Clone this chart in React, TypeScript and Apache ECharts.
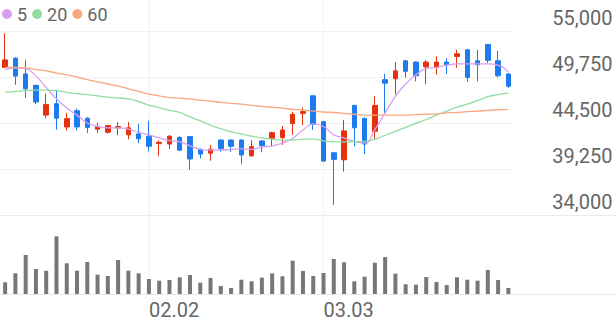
import React, { useEffect, useRef } from "react";
import * as echarts from "echarts";

const dates = [
  "01.13", "01.14", "01.15", "01.16", "01.19", "01.20", "01.21", "01.22", "01.23", "01.26",
  "01.27", "01.28", "01.29", "01.30", "02.02", "02.03", "02.04", "02.05", "02.06", "02.09",
  "02.10", "02.11", "02.12", "02.13", "02.19", "02.20", "02.23", "02.24", "02.25", "02.26",
  "02.27", "03.03", "03.04", "03.05", "03.06", "03.09", "03.10", "03.11", "03.12", "03.13",
  "03.16", "03.17", "03.18", "03.19", "03.20", "03.23", "03.24", "03.25", "03.26", "03.27",
];
const tickLabels = ["02.02", "03.03"];

const opens = [
  50850, 51900, 50100, 48800, 45400, 46700, 44050, 45900, 45050, 43800,
  43450, 43950, 43150, 43250, 43000, 42150, 42100, 42850, 42950, 41500,
  41050, 42550, 42550, 42550, 40750, 42450, 42750, 42850, 44450, 45600,
  47600, 44650, 41100, 40300, 46500, 45000, 43550, 49450, 49550, 51600,
  51450, 50900, 50850, 51450, 52100, 52850, 51600, 53450, 51600, 50100,
];
const closes = [
  51700, 49850, 48400, 46900, 46600, 45050, 45000, 44050, 44000, 44100,
  44200, 44100, 43950, 42700, 41850, 42300, 43000, 41400, 40400, 40950,
  41500, 41550, 41850, 40850, 41800, 41900, 43400, 43700, 45500, 45800,
  44350, 40150, 40350, 43600, 43950, 42100, 46500, 49050, 50450, 50400,
  49900, 51450, 51450, 51150, 52400, 49700, 51150, 51650, 49900, 48700,
];
const lows = [
  50750, 48850, 47350, 46650, 45050, 43750, 43650, 43650, 43350, 43350,
  43250, 43100, 42650, 42200, 41250, 40750, 41550, 41350, 39150, 40450,
  40200, 41200, 41200, 39800, 40650, 41150, 41800, 42000, 43150, 44250,
  43700, 40100, 35150, 38950, 41850, 40950, 42600, 45650, 47750, 49650,
  49250, 48950, 50000, 50100, 50800, 49200, 49250, 51350, 49700, 48500,
];
const highs = [
  54750, 52000, 51700, 48850, 47850, 48300, 45650, 46150, 45150, 44500,
  44300, 44600, 44600, 44400, 44750, 42500, 43100, 43000, 43000, 41600,
  42000, 42650, 42650, 42650, 42550, 42550, 43500, 44150, 45800, 46250,
  47650, 44750, 41150, 44850, 46600, 45150, 47550, 50100, 51450, 51700,
  51550, 51700, 52100, 51900, 52850, 52950, 52850, 53500, 52750, 50150,
];

const ma5 = [
  50600, 50800, 50700, 49850, 48550, 47250, 46200, 45400, 44500, 44100,
  43950, 43950, 43800, 43450, 43150, 42800, 42500, 42350, 41900, 41500,
  41400, 41400, 41500, 41550, 41500, 41750, 41900, 42200, 42750, 43700,
  44400, 44100, 43150, 42800, 42400, 42200, 43750, 45650, 47550, 48950,
  50000, 50700, 50850, 51100, 51250, 51250, 51250, 51250, 51100, 50300,
];
const ma20 = [
  48000, 48100, 48200, 48250, 48250, 48200, 48000, 47850, 47750, 47600,
  47450, 47350, 47250, 46950, 46550, 46250, 45950, 45700, 45200, 44750,
  44250, 43850, 43500, 43250, 43000, 42800, 42650, 42550, 42550, 42650,
  42650, 42450, 42350, 42350, 42350, 42400, 42650, 43100, 43550, 44000,
  44450, 44900, 45400, 45850, 46300, 46650, 47050, 47500, 47750, 47900,
];
const ma60 = [
  50850, 50850, 50800, 50600, 50450, 50200, 50000, 49750, 49450, 49200,
  48950, 48700, 48400, 48100, 47800, 47600, 47400, 47350, 47250, 47100,
  47000, 46850, 46750, 46650, 46500, 46400, 46300, 46200, 46050, 46000,
  45850, 45750, 45700, 45600, 45500, 45400, 45400, 45400, 45400, 45400,
  45450, 45500, 45550, 45650, 45700, 45800, 45850, 45950, 46000, 46050,
];
const volumes = [
  117, 207, 390, 250, 233, 577, 307, 233, 320, 193,
  180, 340, 233, 207, 150, 133, 140, 167, 190, 113,
  160, 80, 60, 143, 127, 163, 207, 177, 333, 230,
  180, 210, 350, 317, 127, 173, 313, 370, 203, 97,
  93, 170, 120, 90, 167, 143, 133, 240, 140, 60,
];

const priceMin = 34000;
const priceMax = 55000;
const priceStep = 5250;
const volumeMax = 700;

const RED = "#e6310e";
const BLUE = "#1b7bef";
const PURPLE = "#d99ff2";
const GREEN = "#92dca2";
const ORANGE = "#f9a77f";
const GRID = "#f1f1f1";
const TEXT = "#666666";
const FONT = "Roboto, 'Noto Sans', sans-serif";

export default function App() {
  const ref = useRef<HTMLDivElement>(null);
  useEffect(() => {
    if (!ref.current) return;
    const chart = echarts.init(ref.current, null, { renderer: "svg" });
    const candles = dates.map((_, i) => [opens[i], closes[i], lows[i], highs[i]]);
    chart.setOption({
      animation: false,
      legend: {
        data: ["5", "20", "60"],
        icon: "circle",
        itemWidth: 10,
        itemHeight: 10,
        itemGap: 5,
        left: 2,
        top: 5,
        padding: 0,
        textStyle: { fontSize: 18, color: TEXT, fontFamily: FONT },
      },
      grid: [
        { left: 0, right: 102.5, top: 31, bottom: 106 },
        { left: 0, right: 102.5, top: 224, bottom: 27 },
        { left: 0, right: 102.5, top: 0, bottom: 27 },
        { left: 0, right: 0, top: 0, bottom: 106 },
        { left: 0, right: 0, top: 0, bottom: 27 },
      ],
      xAxis: [
        {
          type: "category", gridIndex: 0, data: dates,
          axisLine: { show: false }, axisTick: { show: false },
          axisLabel: { show: false }, splitLine: { show: false },
        },
        {
          type: "category", gridIndex: 1, data: dates,
          axisLine: { show: false }, axisTick: { show: false },
          splitLine: { show: false },
          axisLabel: {
            interval: (_i: number, v: string) => tickLabels.includes(v),
            align: "left",
            margin: 6,
            fontSize: 20,
            color: TEXT,
            fontFamily: FONT,
          },
        },
        { type: "category", gridIndex: 2, data: dates, show: false },
        {
          type: "value", gridIndex: 3, min: 0, max: 1,
          axisLine: { show: true, onZero: false, lineStyle: { color: "#ebebeb", width: 1 } },
          axisTick: { show: false }, axisLabel: { show: false }, splitLine: { show: false },
        },
        {
          type: "value", gridIndex: 4, min: 0, max: 1,
          axisLine: { show: true, onZero: false, lineStyle: { color: "#ebebeb", width: 1 } },
          axisTick: { show: false }, axisLabel: { show: false }, splitLine: { show: false },
        },
      ],
      yAxis: [
        {
          type: "value", gridIndex: 0, position: "right",
          min: priceMin, max: priceMax, interval: priceStep,
          axisLine: { show: false }, axisTick: { show: false },
          splitLine: { show: true, lineStyle: { color: GRID, width: 1 } },
          axisLabel: {
            align: "right",
            verticalAlign: "bottom",
            margin: 99,
            padding: [0, 0, 3, 0],
            fontSize: 20,
            color: TEXT,
            fontFamily: FONT,
            formatter: (v: number) => v.toLocaleString("en-US"),
          },
        },
        { type: "value", gridIndex: 1, min: 0, max: volumeMax, show: false },
        { type: "value", gridIndex: 2, min: 0, max: 1, show: false },
        { type: "value", gridIndex: 3, min: 0, max: 1, show: false },
        { type: "value", gridIndex: 4, min: 0, max: 1, show: false },
      ],
      series: [
        {
          type: "line", xAxisIndex: 2, yAxisIndex: 2, z: 0,
          data: dates.map(() => null), symbol: "none", silent: true,
          markLine: {
            silent: true, z: 0, symbol: ["none", "none"],
            label: { show: false },
            emphasis: { disabled: true },
            lineStyle: { color: GRID, type: "solid", width: 1, opacity: 1 },
            data: tickLabels.map((t) => ({ xAxis: t })),
          },
        },
        {
          type: "candlestick", name: "price", xAxisIndex: 0, yAxisIndex: 0,
          data: candles, barWidth: 5, z: 3,
          itemStyle: { color: RED, color0: BLUE, borderColor: RED, borderColor0: BLUE, borderWidth: 1 },
        },
        {
          type: "line", name: "5", xAxisIndex: 0, yAxisIndex: 0, data: ma5, z: 4,
          smooth: true, symbol: "none", color: PURPLE, lineStyle: { width: 1.3, color: PURPLE },
        },
        {
          type: "line", name: "20", xAxisIndex: 0, yAxisIndex: 0, data: ma20, z: 4,
          smooth: true, symbol: "none", color: GREEN, lineStyle: { width: 1.3, color: GREEN },
        },
        {
          type: "line", name: "60", xAxisIndex: 0, yAxisIndex: 0, data: ma60, z: 4,
          smooth: true, symbol: "none", color: ORANGE, lineStyle: { width: 1.3, color: ORANGE },
        },
        {
          type: "bar", name: "volume", xAxisIndex: 1, yAxisIndex: 1, data: volumes,
          barWidth: 4, itemStyle: { color: "#777777" },
        },
      ],
    });
    return () => chart.dispose();
  }, []);
  return (
    <div
      ref={ref}
      style={{ position: "fixed", left: 0, top: 0, width: 616, height: 321, background: "#fff" }}
    />
  );
}
